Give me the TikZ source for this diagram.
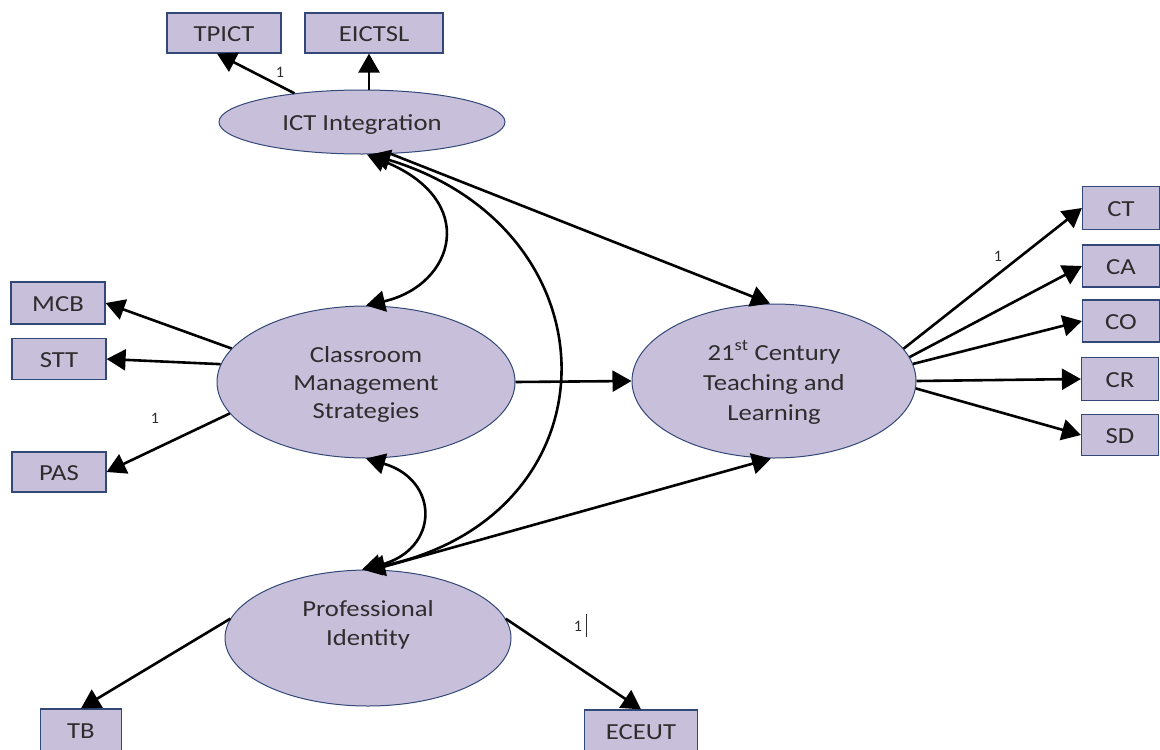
\documentclass[tikz,border=0pt]{standalone}
\usepackage{fontspec}
\usepackage{graphicx}
\setmainfont{Carlito}
\usetikzlibrary{arrows.meta,shapes.geometric,calc}
\definecolor{lav}{RGB}{200,191,219}
\definecolor{edge}{RGB}{50,72,120}
\definecolor{txt}{RGB}{45,45,45}
\newcommand{\sx}[1]{\raisebox{0pt}[\dimexpr\height+6pt\relax]{\scalebox{1.16}[1]{\begin{tabular}{@{}c@{}}#1\end{tabular}}}}
\tikzset{
  lat/.style={ellipse,draw=edge,fill=lav,line width=1pt,inner sep=0pt,align=center,text=txt,
    font=\fontsize{23}{28}\selectfont},
  obs/.style={rectangle,draw=edge,fill=lav,line width=1.2pt,inner sep=0pt,text=txt,
    font=\fontsize{23}{25}\selectfont},
  ttxt/.style={inner sep=0pt,text=txt,font=\fontsize{23}{29}\selectfont},
  arr/.style={line width=2.6pt,-{Triangle[length=19pt,width=21pt]}},
  darr/.style={line width=2.6pt,{Triangle[length=19pt,width=21pt]}-{Triangle[length=19pt,width=21pt]}},
  lbl/.style={text=txt,font=\fontsize{16}{18}\selectfont,inner sep=0pt}
}
\begin{document}
\begin{tikzpicture}[x=1pt,y=-1pt]
\useasboundingbox (0,0) rectangle (1160,750);
% latent variables
\node[lat,minimum width=286pt,minimum height=64pt] (ICT) at (362,122) {\sx{ICT Integration}};
\node[lat,minimum width=298pt,minimum height=152pt] (CMS) at (366,382) {\sx{Classroom\\Management\\Strategies}};
\node[lat,minimum width=284pt,minimum height=154pt,font=\fontsize{23}{30}\selectfont] (TCL) at (774,381) {\sx{21\textsuperscript{st} Century\\Teaching and\\Learning}};
\node[lat,minimum width=286pt,minimum height=136pt] (PI) at (368,638) {};
\node[ttxt] (PIt) at (368,622) {\sx{Professional\\Identity}};
% observed variables
\node[obs,minimum width=114pt,minimum height=40pt] (TPICT) at (224,33) {\sx{TPICT}};
\node[obs,minimum width=138pt,minimum height=40pt] (EICTSL) at (374,33) {\sx{EICTSL}};
\node[obs,minimum width=94pt,minimum height=42pt] (MCB) at (58,303) {\sx{MCB}};
\node[obs,minimum width=94pt,minimum height=41pt] (STT) at (59,359) {\sx{STT}};
\node[obs,minimum width=94pt,minimum height=40pt] (PAS) at (59,472) {\sx{PAS}};
\node[obs,minimum width=77pt,minimum height=43pt] (CT) at (1121,208) {\sx{CT}};
\node[obs,minimum width=77pt,minimum height=42pt] (CA) at (1121,266) {\sx{CA}};
\node[obs,minimum width=77pt,minimum height=42pt] (CO) at (1121,321) {\sx{CO}};
\node[obs,minimum width=77pt,minimum height=43pt] (CR) at (1120,379) {\sx{CR}};
\node[obs,minimum width=77pt,minimum height=41pt] (SD) at (1120,435) {\sx{SD}};
\node[obs,minimum width=81pt,minimum height=42pt] (TB) at (81,730) {\sx{TB}};
\node[obs,minimum width=113pt,minimum height=42pt] (ECEUT) at (641,731) {\sx{ECEUT}};
% ICT indicators
\draw[arr] (ICT.157) -- ([xshift=-7pt]TPICT.south);
\draw[arr] ([xshift=7pt]ICT.north) -- ([xshift=-5pt]EICTSL.south);
\node[lbl] (l1) at (280,72) {1};
% CMS indicators
\draw[arr] (CMS.166) -- (MCB.east);
\draw[arr] (CMS.173) -- (STT.east);
\draw[arr] (CMS.193) -- (PAS.east);
\node[lbl] (l2) at (155,418) {1};
% TCL indicators
\draw[arr] (TCL.14.5) -- (CT.west);
\draw[arr] (TCL.10.8) -- (CA.west);
\draw[arr] (TCL.7.3) -- (CO.west);
\draw[arr] (TCL.east) -- (CR.west);
\draw[arr] (TCL.-3.6) -- (SD.west);
\node[lbl] (l3) at (998,256) {1};
% PI indicators
\draw[arr] (PI.172) -- (TB.north);
\draw[arr] (PI.8) -- (ECEUT.north);
\node[lbl] (l4) at (578,626) {1};
\coordinate (c1) at (586,614);
\coordinate (c2) at (586,637);
\draw[line width=0.8pt,txt] (c1) -- (c2);
% structural paths
\draw[arr] (CMS.east) -- (TCL.west);
\draw[arr] (ICT.-48) -- ([xshift=-4pt]TCL.north);
\draw[arr] ([xshift=6pt]PI.north) -- ([xshift=-3pt]TCL.south);
% covariances
\draw[darr] ([xshift=5pt]ICT.south) .. controls (480,200) and (455,285) .. (CMS.north);
\draw[darr] (CMS.south) .. controls (440,480) and (440,550) .. ([xshift=-6pt]PI.north);
\draw[darr] ([xshift=9pt]ICT.south) .. controls (620,230) and (620,515) .. ([xshift=-2pt]PI.north);
\end{tikzpicture}
\end{document}
